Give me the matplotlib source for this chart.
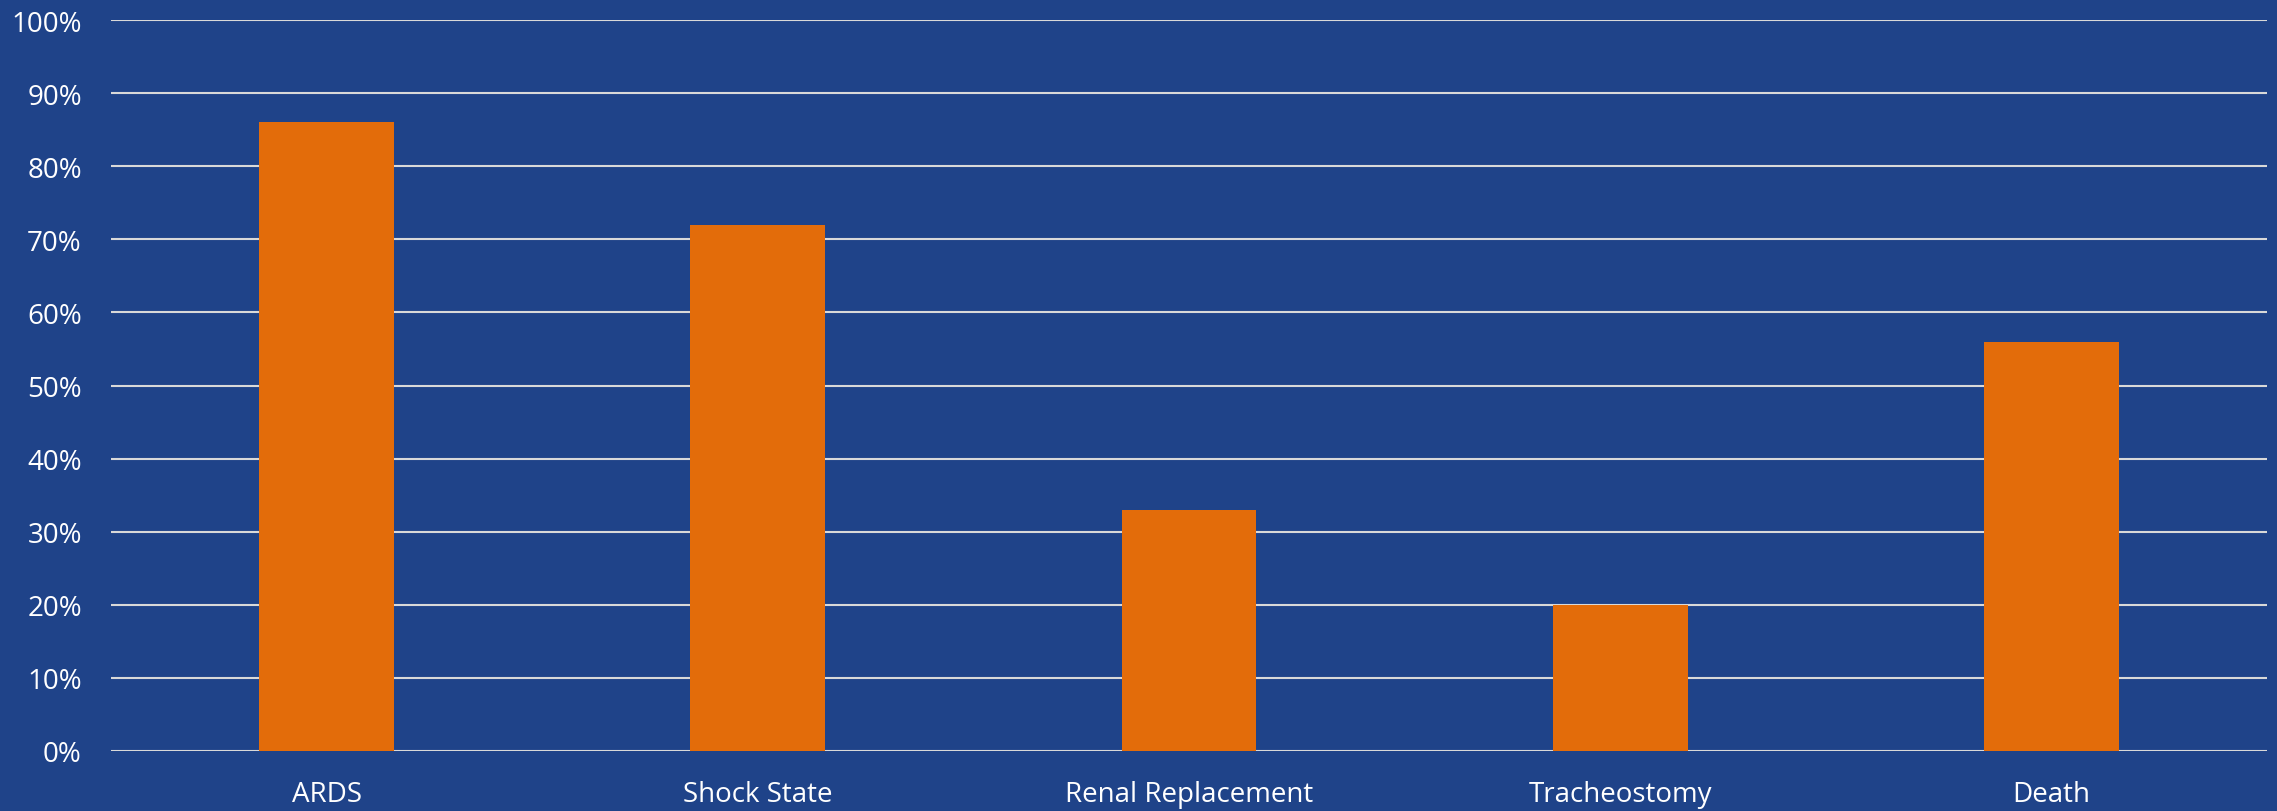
import matplotlib
matplotlib.use("Agg")
import matplotlib.pyplot as plt
from matplotlib.ticker import FuncFormatter

### Data
categories = ["ARDS", "Shock State", "Renal Replacement", "Tracheostomy", "Death"]
values = [86, 72, 33, 20, 56]
yticks = [0, 10, 20, 30, 40, 50, 60, 70, 80, 90, 100]

### Style
bg = "#1F4389"
bar_color = "#E36C0A"
grid_color = "#D9D9D9"
plt.rcParams['font.family'] = ['Open Sans', 'DejaVu Sans']

fig = plt.figure(figsize=(22.77, 8.12), dpi=100, facecolor=bg)
ax = fig.add_axes([111/2277, 60/812, 2156/2277, 731/812])
ax.set_facecolor(bg)

x = range(len(categories))
ax.bar(x, values, width=0.313, color=bar_color, zorder=3)

ax.set_xlim(-0.5, len(categories) - 0.5)
ax.set_ylim(0, 100)
ax.set_yticks(yticks)
ax.yaxis.set_major_formatter(FuncFormatter(lambda v, p: "%d%%" % v))
ax.set_xticks(list(x))
ax.set_xticklabels(categories)

ax.grid(axis="y", color=grid_color, linewidth=1.5, zorder=0)
ax.tick_params(axis="both", length=0, colors="white", labelsize=20)
ax.tick_params(axis="y", pad=21)
ax.tick_params(axis="x", pad=21)
for s in ax.spines.values():
	s.set_visible(False)

fig.savefig("out.png", dpi=100, facecolor=bg)
